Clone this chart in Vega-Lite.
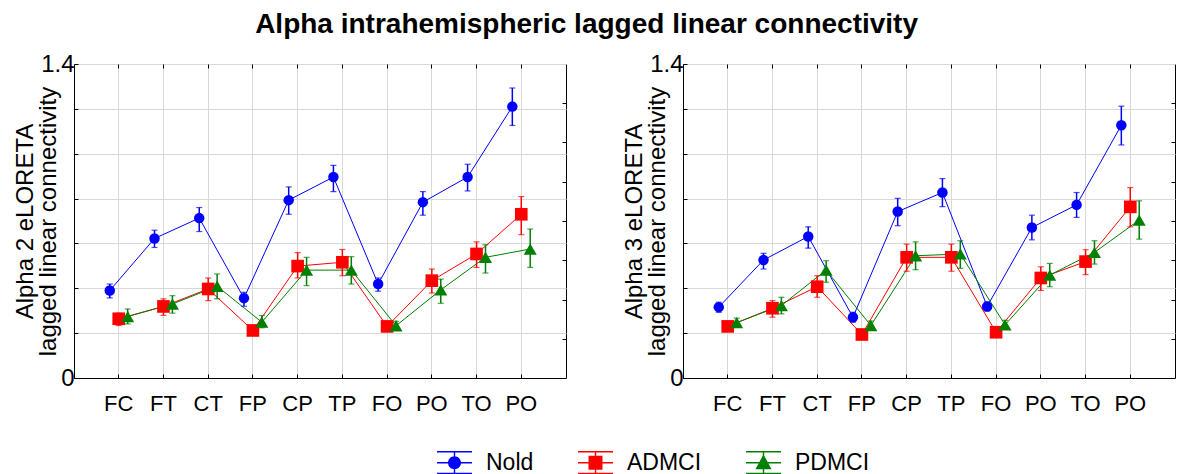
{
  "$schema": "https://vega.github.io/schema/vega-lite/v6.json",
  "autosize": {"type": "pad"},
  "padding": {"left": 13, "top": 10, "right": 0, "bottom": 0},
  "background": "white",
  "title": {"text": "Alpha intrahemispheric lagged linear connectivity", "fontSize": 28, "font": "Liberation Sans", "fontWeight": "bold", "color": "black", "anchor": "middle", "offset": 13, "dx": -8},
  "bounds": "flush",
  "spacing": 117,
  "datasets": {
    "d": [
      {"band": "Alpha 2", "region": "FC", "group": "Nold", "mean": 0.39, "lo": 0.357, "hi": 0.419},
      {"band": "Alpha 2", "region": "FT", "group": "Nold", "mean": 0.622, "lo": 0.582, "hi": 0.659},
      {"band": "Alpha 2", "region": "CT", "group": "Nold", "mean": 0.713, "lo": 0.653, "hi": 0.76},
      {"band": "Alpha 2", "region": "FP", "group": "Nold", "mean": 0.356, "lo": 0.32, "hi": 0.382},
      {"band": "Alpha 2", "region": "CP", "group": "Nold", "mean": 0.793, "lo": 0.73, "hi": 0.852},
      {"band": "Alpha 2", "region": "TP", "group": "Nold", "mean": 0.896, "lo": 0.831, "hi": 0.948},
      {"band": "Alpha 2", "region": "FO", "group": "Nold", "mean": 0.419, "lo": 0.387, "hi": 0.446},
      {"band": "Alpha 2", "region": "PO", "group": "Nold", "mean": 0.784, "lo": 0.726, "hi": 0.831},
      {"band": "Alpha 2", "region": "TO", "group": "Nold", "mean": 0.896, "lo": 0.834, "hi": 0.953},
      {"band": "Alpha 2", "region": "PO ", "group": "Nold", "mean": 1.21, "lo": 1.126, "hi": 1.293},
      {"band": "Alpha 2", "region": "FC", "group": "ADMCI", "mean": 0.264, "lo": 0.234, "hi": 0.289},
      {"band": "Alpha 2", "region": "FT", "group": "ADMCI", "mean": 0.319, "lo": 0.279, "hi": 0.353},
      {"band": "Alpha 2", "region": "CT", "group": "ADMCI", "mean": 0.397, "lo": 0.345, "hi": 0.446},
      {"band": "Alpha 2", "region": "FP", "group": "ADMCI", "mean": 0.212, "lo": 0.192, "hi": 0.232},
      {"band": "Alpha 2", "region": "CP", "group": "ADMCI", "mean": 0.499, "lo": 0.446, "hi": 0.559},
      {"band": "Alpha 2", "region": "TP", "group": "ADMCI", "mean": 0.516, "lo": 0.456, "hi": 0.573},
      {"band": "Alpha 2", "region": "FO", "group": "ADMCI", "mean": 0.23, "lo": 0.21, "hi": 0.25},
      {"band": "Alpha 2", "region": "PO", "group": "ADMCI", "mean": 0.434, "lo": 0.379, "hi": 0.486},
      {"band": "Alpha 2", "region": "TO", "group": "ADMCI", "mean": 0.553, "lo": 0.493, "hi": 0.607},
      {"band": "Alpha 2", "region": "PO ", "group": "ADMCI", "mean": 0.73, "lo": 0.639, "hi": 0.809},
      {"band": "Alpha 2", "region": "FC", "group": "PDMCI", "mean": 0.274, "lo": 0.241, "hi": 0.308},
      {"band": "Alpha 2", "region": "FT", "group": "PDMCI", "mean": 0.33, "lo": 0.289, "hi": 0.367},
      {"band": "Alpha 2", "region": "CT", "group": "PDMCI", "mean": 0.409, "lo": 0.353, "hi": 0.464},
      {"band": "Alpha 2", "region": "FP", "group": "PDMCI", "mean": 0.249, "lo": 0.224, "hi": 0.279},
      {"band": "Alpha 2", "region": "CP", "group": "PDMCI", "mean": 0.481, "lo": 0.412, "hi": 0.538},
      {"band": "Alpha 2", "region": "TP", "group": "PDMCI", "mean": 0.481, "lo": 0.419, "hi": 0.541},
      {"band": "Alpha 2", "region": "FO", "group": "PDMCI", "mean": 0.233, "lo": 0.213, "hi": 0.253},
      {"band": "Alpha 2", "region": "PO", "group": "PDMCI", "mean": 0.393, "lo": 0.333, "hi": 0.441},
      {"band": "Alpha 2", "region": "TO", "group": "PDMCI", "mean": 0.538, "lo": 0.468, "hi": 0.594},
      {"band": "Alpha 2", "region": "PO ", "group": "PDMCI", "mean": 0.575, "lo": 0.493, "hi": 0.664},
      {"band": "Alpha 3", "region": "FC", "group": "Nold", "mean": 0.316, "lo": 0.293, "hi": 0.338},
      {"band": "Alpha 3", "region": "FT", "group": "Nold", "mean": 0.526, "lo": 0.486, "hi": 0.556},
      {"band": "Alpha 3", "region": "CT", "group": "Nold", "mean": 0.631, "lo": 0.579, "hi": 0.674},
      {"band": "Alpha 3", "region": "FP", "group": "Nold", "mean": 0.271, "lo": 0.249, "hi": 0.293},
      {"band": "Alpha 3", "region": "CP", "group": "Nold", "mean": 0.742, "lo": 0.679, "hi": 0.801},
      {"band": "Alpha 3", "region": "TP", "group": "Nold", "mean": 0.827, "lo": 0.764, "hi": 0.889},
      {"band": "Alpha 3", "region": "FO", "group": "Nold", "mean": 0.319, "lo": 0.299, "hi": 0.339},
      {"band": "Alpha 3", "region": "PO", "group": "Nold", "mean": 0.671, "lo": 0.616, "hi": 0.726},
      {"band": "Alpha 3", "region": "TO", "group": "Nold", "mean": 0.772, "lo": 0.716, "hi": 0.827},
      {"band": "Alpha 3", "region": "PO ", "group": "Nold", "mean": 1.127, "lo": 1.039, "hi": 1.212},
      {"band": "Alpha 3", "region": "FC", "group": "ADMCI", "mean": 0.23, "lo": 0.215, "hi": 0.245},
      {"band": "Alpha 3", "region": "FT", "group": "ADMCI", "mean": 0.311, "lo": 0.271, "hi": 0.345},
      {"band": "Alpha 3", "region": "CT", "group": "ADMCI", "mean": 0.407, "lo": 0.36, "hi": 0.456},
      {"band": "Alpha 3", "region": "FP", "group": "ADMCI", "mean": 0.194, "lo": 0.179, "hi": 0.209},
      {"band": "Alpha 3", "region": "CP", "group": "ADMCI", "mean": 0.538, "lo": 0.476, "hi": 0.597},
      {"band": "Alpha 3", "region": "TP", "group": "ADMCI", "mean": 0.538, "lo": 0.476, "hi": 0.597},
      {"band": "Alpha 3", "region": "FO", "group": "ADMCI", "mean": 0.204, "lo": 0.189, "hi": 0.219},
      {"band": "Alpha 3", "region": "PO", "group": "ADMCI", "mean": 0.446, "lo": 0.39, "hi": 0.496},
      {"band": "Alpha 3", "region": "TO", "group": "ADMCI", "mean": 0.519, "lo": 0.461, "hi": 0.572},
      {"band": "Alpha 3", "region": "PO ", "group": "ADMCI", "mean": 0.763, "lo": 0.674, "hi": 0.849},
      {"band": "Alpha 3", "region": "FC", "group": "PDMCI", "mean": 0.247, "lo": 0.227, "hi": 0.267},
      {"band": "Alpha 3", "region": "FT", "group": "PDMCI", "mean": 0.323, "lo": 0.286, "hi": 0.36},
      {"band": "Alpha 3", "region": "CT", "group": "PDMCI", "mean": 0.481, "lo": 0.427, "hi": 0.523},
      {"band": "Alpha 3", "region": "FP", "group": "PDMCI", "mean": 0.234, "lo": 0.214, "hi": 0.254},
      {"band": "Alpha 3", "region": "CP", "group": "PDMCI", "mean": 0.545, "lo": 0.483, "hi": 0.607},
      {"band": "Alpha 3", "region": "TP", "group": "PDMCI", "mean": 0.553, "lo": 0.489, "hi": 0.612},
      {"band": "Alpha 3", "region": "FO", "group": "PDMCI", "mean": 0.237, "lo": 0.217, "hi": 0.257},
      {"band": "Alpha 3", "region": "PO", "group": "PDMCI", "mean": 0.459, "lo": 0.407, "hi": 0.511},
      {"band": "Alpha 3", "region": "TO", "group": "PDMCI", "mean": 0.56, "lo": 0.508, "hi": 0.612},
      {"band": "Alpha 3", "region": "PO ", "group": "PDMCI", "mean": 0.704, "lo": 0.619, "hi": 0.79}
    ]
  },
  "data": {"name": "d"},
  "hconcat": [
    {
      "width": 492, "height": 314,
      "transform": [{"filter": {"field": "band", "equal": "Alpha 2"}}],
      "layer": [
        {
          "mark": {"type": "line", "strokeWidth": 1},
          "encoding": {
            "x": {"field": "region", "type": "nominal", "sort": ["FC","FT","CT","FP","CP","TP","FO","PO","TO","PO "], "scale": {"type": "band", "paddingInner": 0, "paddingOuter": 0.5},
              "axis": {"orient": "bottom", "title": null, "bandPosition": 0.5, "grid": true, "ticks": true, "tickSize": -4, "labelFontSize": 22, "labelPadding": 19, "labelAngle": 0}},
            "xOffset": {"field": "group", "type": "nominal", "scale": {"domain": ["Nold","ADMCI","PDMCI"], "paddingInner": 0, "paddingOuter": 1.94}},
            "y": {"field": "mean", "type": "quantitative", "scale": {"domain": [0, 1.4], "nice": false, "zero": true},
              "axis": {"orient": "left", "title": ["Alpha 2 eLORETA", "lagged linear connectivity"], "values": [0, 0.2, 0.4, 0.6, 0.8, 1, 1.2, 1.4], "format": ".1~f", "labelExpr": "datum.value == 0 || datum.value == 1.4 ? datum.label : ''", "grid": true, "tickSize": -4, "labelFontSize": 24, "labelPadding": 4, "titleFontSize": 24, "titlePadding": -20, "titleLineHeight": 23}},
            "stroke": {"field": "group", "type": "nominal", "scale": {"domain": ["ADMCI","Nold","PDMCI"], "range": ["#ff0000","#0000ff","#008000"]}, "legend": null},
            "order": {"value": null}
          }
        },
        {
          "mark": {"type": "rule", "strokeWidth": 1.5},
          "encoding": {
            "x": {"field": "region", "type": "nominal", "sort": ["FC","FT","CT","FP","CP","TP","FO","PO","TO","PO "],
              "axis": {"orient": "top", "title": null, "labels": false, "domain": false, "grid": false, "ticks": true, "tickSize": -4, "bandPosition": 0.5}},
            "xOffset": {"field": "group", "type": "nominal", "scale": {"domain": ["Nold","ADMCI","PDMCI"]}},
            "y": {"field": "lo", "type": "quantitative",
              "axis": {"orient": "right", "title": null, "labels": false, "domain": false, "grid": false, "ticks": true, "tickSize": -4, "values": [0.175, 0.35, 0.525, 0.7, 0.875, 1.05, 1.225]}},
            "y2": {"field": "hi"},
            "stroke": {"field": "group", "type": "nominal", "legend": null}
          }
        },
        {
          "mark": {"type": "tick", "size": 6, "thickness": 1.2},
          "encoding": {
            "x": {"field": "region", "type": "nominal", "sort": ["FC","FT","CT","FP","CP","TP","FO","PO","TO","PO "], "axis": null},
            "xOffset": {"field": "group", "type": "nominal", "scale": {"domain": ["Nold","ADMCI","PDMCI"]}},
            "y": {"field": "lo", "type": "quantitative", "axis": null},
            "fill": {"field": "group", "type": "nominal", "scale": {"domain": ["PDMCI","Nold","ADMCI"], "range": ["#008000","#0000ff","#ff0000"]}, "legend": null}
          }
        },
        {
          "mark": {"type": "tick", "size": 6, "thickness": 1.2},
          "encoding": {
            "x": {"field": "region", "type": "nominal", "sort": ["FC","FT","CT","FP","CP","TP","FO","PO","TO","PO "], "axis": null},
            "xOffset": {"field": "group", "type": "nominal", "scale": {"domain": ["Nold","ADMCI","PDMCI"]}},
            "y": {"field": "hi", "type": "quantitative", "axis": null},
            "fill": {"field": "group", "type": "nominal", "legend": null}
          }
        },
        {
          "transform": [{"filter": {"field": "group", "equal": "Nold"}}],
          "mark": {"type": "point", "shape": "circle", "filled": true, "size": 110, "color": "#0000ff", "opacity": 1},
          "encoding": {
            "x": {"field": "region", "type": "nominal", "sort": ["FC","FT","CT","FP","CP","TP","FO","PO","TO","PO "], "axis": null},
            "xOffset": {"field": "group", "type": "nominal", "scale": {"domain": ["Nold","ADMCI","PDMCI"]}},
            "y": {"field": "mean", "type": "quantitative", "axis": null}
          }
        },
        {
          "transform": [{"filter": {"field": "group", "equal": "ADMCI"}}],
          "mark": {"type": "point", "shape": "square", "filled": true, "size": 160, "color": "#ff0000", "opacity": 1},
          "encoding": {
            "x": {"field": "region", "type": "nominal", "sort": ["FC","FT","CT","FP","CP","TP","FO","PO","TO","PO "], "axis": null},
            "xOffset": {"field": "group", "type": "nominal", "scale": {"domain": ["Nold","ADMCI","PDMCI"]}},
            "y": {"field": "mean", "type": "quantitative", "axis": null}
          }
        },
        {
          "transform": [{"filter": {"field": "group", "equal": "PDMCI"}}],
          "mark": {"type": "point", "shape": "triangle-up", "filled": true, "size": 170, "color": "#008000", "opacity": 1},
          "encoding": {
            "x": {"field": "region", "type": "nominal", "sort": ["FC","FT","CT","FP","CP","TP","FO","PO","TO","PO "], "axis": null},
            "xOffset": {"field": "group", "type": "nominal", "scale": {"domain": ["Nold","ADMCI","PDMCI"]}},
            "y": {"field": "mean", "type": "quantitative", "axis": null}
          }
        },
        {
          "mark": {"type": "point", "filled": true, "opacity": 0},
          "encoding": {
            "x": {"field": "region", "type": "nominal", "sort": ["FC","FT","CT","FP","CP","TP","FO","PO","TO","PO "], "axis": null},
            "xOffset": {"field": "group", "type": "nominal", "scale": {"domain": ["Nold","ADMCI","PDMCI"]}},
            "y": {"field": "mean", "type": "quantitative", "axis": null},
            "color": {"field": "group", "type": "nominal", "scale": {"domain": ["Nold","ADMCI","PDMCI"], "range": ["#0000ff","#ff0000","#008000"]}, "legend": {"orient": "none", "legendX": 369, "legendY": 387, "direction": "horizontal", "title": null}},
            "shape": {"field": "group", "type": "nominal", "scale": {"domain": ["Nold","ADMCI","PDMCI"], "range": [
              "M-1.75,-1.17H1.75V-1.03H-1.75ZM-1.75,-0.07H1.75V0.07H-1.75ZM-1.75,1.0H1.75V1.14H-1.75ZM-0.07,-1.17H0.07V1.14H-0.07ZM-0.65,0A0.65,0.65 0 1,1 0.65,0A0.65,0.65 0 1,1 -0.65,0Z",
              "M-1.75,-1.17H1.75V-1.03H-1.75ZM-1.75,-0.07H1.75V0.07H-1.75ZM-1.75,1.0H1.75V1.14H-1.75ZM-0.07,-1.17H0.07V1.14H-0.07ZM-0.7,-0.7H0.7V0.7H-0.7Z",
              "M-1.75,-1.17H1.75V-1.03H-1.75ZM-1.75,-0.07H1.75V0.07H-1.75ZM-1.75,1.0H1.75V1.14H-1.75ZM-0.07,-1.17H0.07V1.14H-0.07ZM0,-0.85L0.8,0.65H-0.8Z"
            ]}, "legend": {"orient": "none", "legendX": 369, "legendY": 387, "direction": "horizontal", "title": null}}
          }
        }
      ]
    },
    {
      "width": 492, "height": 314,
      "transform": [{"filter": {"field": "band", "equal": "Alpha 3"}}],
      "layer": [
        {
          "mark": {"type": "line", "strokeWidth": 1},
          "encoding": {
            "x": {"field": "region", "type": "nominal", "sort": ["FC","FT","CT","FP","CP","TP","FO","PO","TO","PO "], "scale": {"type": "band", "paddingInner": 0, "paddingOuter": 0.5},
              "axis": {"orient": "bottom", "title": null, "bandPosition": 0.5, "grid": true, "ticks": true, "tickSize": -4, "labelFontSize": 22, "labelPadding": 19, "labelAngle": 0}},
            "xOffset": {"field": "group", "type": "nominal", "scale": {"domain": ["Nold","ADMCI","PDMCI"], "paddingInner": 0, "paddingOuter": 1.94}},
            "y": {"field": "mean", "type": "quantitative", "scale": {"domain": [0, 1.4], "nice": false, "zero": true},
              "axis": {"orient": "left", "title": ["Alpha 3 eLORETA", "lagged linear connectivity"], "values": [0, 0.2, 0.4, 0.6, 0.8, 1, 1.2, 1.4], "format": ".1~f", "labelExpr": "datum.value == 0 || datum.value == 1.4 ? datum.label : ''", "grid": true, "tickSize": -4, "labelFontSize": 24, "labelPadding": 4, "titleFontSize": 24, "titlePadding": -20, "titleLineHeight": 23}},
            "stroke": {"field": "group", "type": "nominal", "legend": null},
            "order": {"value": null}
          }
        },
        {
          "mark": {"type": "rule", "strokeWidth": 1.5},
          "encoding": {
            "x": {"field": "region", "type": "nominal", "sort": ["FC","FT","CT","FP","CP","TP","FO","PO","TO","PO "],
              "axis": {"orient": "top", "title": null, "labels": false, "domain": false, "grid": false, "ticks": true, "tickSize": -4, "bandPosition": 0.5}},
            "xOffset": {"field": "group", "type": "nominal", "scale": {"domain": ["Nold","ADMCI","PDMCI"]}},
            "y": {"field": "lo", "type": "quantitative",
              "axis": {"orient": "right", "title": null, "labels": false, "domain": false, "grid": false, "ticks": true, "tickSize": -4, "values": [0.175, 0.35, 0.525, 0.7, 0.875, 1.05, 1.225]}},
            "y2": {"field": "hi"},
            "stroke": {"field": "group", "type": "nominal", "legend": null}
          }
        },
        {
          "mark": {"type": "tick", "size": 6, "thickness": 1.2},
          "encoding": {
            "x": {"field": "region", "type": "nominal", "sort": ["FC","FT","CT","FP","CP","TP","FO","PO","TO","PO "], "axis": null},
            "xOffset": {"field": "group", "type": "nominal", "scale": {"domain": ["Nold","ADMCI","PDMCI"]}},
            "y": {"field": "lo", "type": "quantitative", "axis": null},
            "fill": {"field": "group", "type": "nominal", "legend": null}
          }
        },
        {
          "mark": {"type": "tick", "size": 6, "thickness": 1.2},
          "encoding": {
            "x": {"field": "region", "type": "nominal", "sort": ["FC","FT","CT","FP","CP","TP","FO","PO","TO","PO "], "axis": null},
            "xOffset": {"field": "group", "type": "nominal", "scale": {"domain": ["Nold","ADMCI","PDMCI"]}},
            "y": {"field": "hi", "type": "quantitative", "axis": null},
            "fill": {"field": "group", "type": "nominal", "legend": null}
          }
        },
        {
          "transform": [{"filter": {"field": "group", "equal": "Nold"}}],
          "mark": {"type": "point", "shape": "circle", "filled": true, "size": 110, "color": "#0000ff", "opacity": 1},
          "encoding": {
            "x": {"field": "region", "type": "nominal", "sort": ["FC","FT","CT","FP","CP","TP","FO","PO","TO","PO "], "axis": null},
            "xOffset": {"field": "group", "type": "nominal", "scale": {"domain": ["Nold","ADMCI","PDMCI"]}},
            "y": {"field": "mean", "type": "quantitative", "axis": null}
          }
        },
        {
          "transform": [{"filter": {"field": "group", "equal": "ADMCI"}}],
          "mark": {"type": "point", "shape": "square", "filled": true, "size": 160, "color": "#ff0000", "opacity": 1},
          "encoding": {
            "x": {"field": "region", "type": "nominal", "sort": ["FC","FT","CT","FP","CP","TP","FO","PO","TO","PO "], "axis": null},
            "xOffset": {"field": "group", "type": "nominal", "scale": {"domain": ["Nold","ADMCI","PDMCI"]}},
            "y": {"field": "mean", "type": "quantitative", "axis": null}
          }
        },
        {
          "transform": [{"filter": {"field": "group", "equal": "PDMCI"}}],
          "mark": {"type": "point", "shape": "triangle-up", "filled": true, "size": 170, "color": "#008000", "opacity": 1},
          "encoding": {
            "x": {"field": "region", "type": "nominal", "sort": ["FC","FT","CT","FP","CP","TP","FO","PO","TO","PO "], "axis": null},
            "xOffset": {"field": "group", "type": "nominal", "scale": {"domain": ["Nold","ADMCI","PDMCI"]}},
            "y": {"field": "mean", "type": "quantitative", "axis": null}
          }
        }
      ]
    }
  ],
  "config": {
    "font": "Liberation Sans",
    "view": {"stroke": "black", "strokeWidth": 1},
    "axis": {"labelFont": "Liberation Sans", "titleFont": "Liberation Sans", "titleFontWeight": "normal", "labelColor": "black", "titleColor": "black", "domainColor": "black", "tickColor": "black", "gridColor": "#d9d9d9", "gridWidth": 1},
    "legend": {"labelFont": "Liberation Sans", "labelFontSize": 23, "labelColor": "black", "symbolSize": 400, "symbolOpacity": 1, "symbolStrokeWidth": 0, "labelOffset": 20, "columnPadding": 44, "padding": 0}
  }
}
